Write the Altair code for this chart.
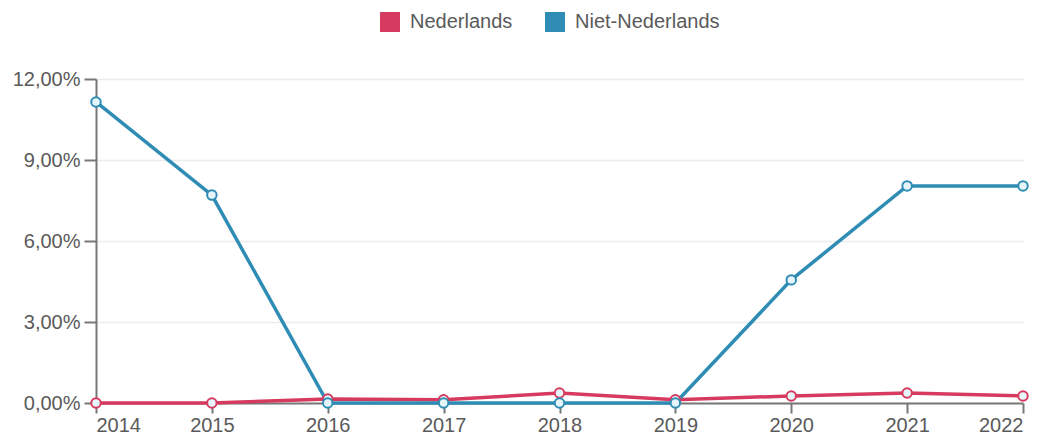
import altair as alt
import pandas as pd

years = [2014, 2015, 2016, 2017, 2018, 2019, 2020, 2021, 2022]
nederlands = [0.0, 0.0, 0.15, 0.12, 0.37, 0.12, 0.26, 0.37, 0.26]
niet_nederlands = [11.15, 7.70, 0.0, 0.0, 0.0, 0.0, 4.56, 8.04, 8.04]
series = ["Nederlands", "Niet-Nederlands"]
colors = ["#d63a5e", "#2f8db5"]

rows = []
for y, v in zip(years, nederlands):
    rows.append({"jaar": y, "waarde": v, "groep": series[0]})
for y, v in zip(years, niet_nederlands):
    rows.append({"jaar": y, "waarde": v, "groep": series[1]})
df = pd.DataFrame(rows)

FONT = "Liberation Sans"
FS = 20
TXT = "#5a5a5a"
AX = "#777777"

x = alt.X("jaar:Q", title=None,
          scale=alt.Scale(domain=[2014, 2022], nice=False, zero=False),
          axis=alt.Axis(values=years, format="d", grid=False, domainColor=AX, domainWidth=2,
                        tickColor=AX, tickWidth=2, tickSize=10, labelFontSize=FS, labelColor=TXT,
                        labelPadding=2, labelFont=FONT))
y = alt.Y("waarde:Q", title=None,
          scale=alt.Scale(domain=[0, 12], nice=False),
          axis=alt.Axis(values=[0, 3, 6, 9, 12],
                        labelExpr="replace(format(datum.value, '.2f'), '.', ',') + '%'",
                        gridColor="#ececec", gridWidth=1.5, domainColor=AX, domainWidth=2,
                        tickColor=AX, tickWidth=2, tickSize=12, labelFontSize=FS,
                        labelColor=TXT, labelFont=FONT, labelPadding=4))
color = alt.Color("groep:N", title=None,
                  scale=alt.Scale(domain=series, range=colors),
                  legend=alt.Legend(orient="none", legendX=284, legendY=-67, direction="horizontal",
                                    symbolType="square", symbolSize=400,
                                    symbolStrokeWidth=0, labelFontSize=FS, labelColor=TXT,
                                    labelFont=FONT, columnPadding=32, labelOffset=10))

base = alt.Chart(df).encode(x=x, y=y, color=color)
lines = base.mark_line(strokeWidth=3.5)
points = base.mark_point(filled=True, size=90, fill="#e6f5f9", strokeWidth=2, opacity=1).encode(
    stroke=alt.Color("groep:N", scale=alt.Scale(domain=series, range=colors), legend=None))

chart = (lines + points).properties(
    width=927, height=324,
    autosize=alt.AutoSizeParams(type="none"),
    padding={"left": 88, "top": 71, "right": 20, "bottom": 40},
).configure_view(stroke=None)

chart.save("out.html", embed_options={"renderer": "svg", "actions": False})
